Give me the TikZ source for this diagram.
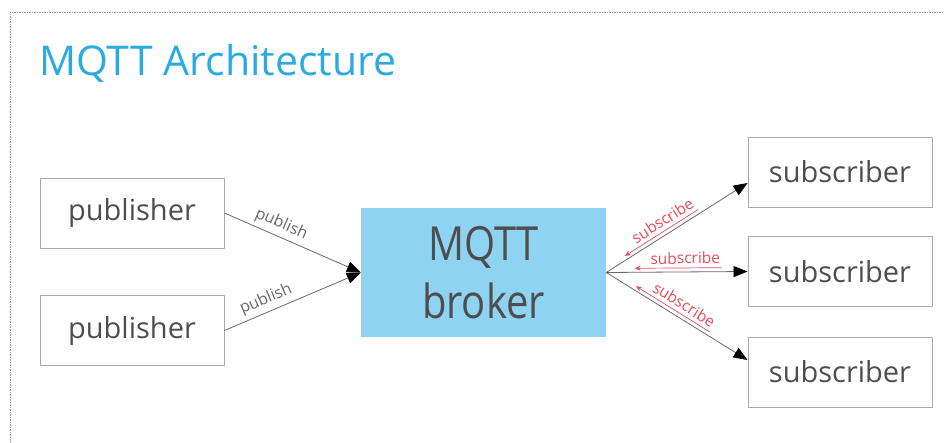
\documentclass[tikz,border=0pt]{standalone}
\usepackage{fontspec}
\setmainfont{Open Sans}
\usetikzlibrary{arrows.meta,calc}
\definecolor{titleblue}{RGB}{41,171,226}
\definecolor{brokerfill}{RGB}{142,211,242}
\definecolor{boxline}{RGB}{170,170,170}
\definecolor{textgray}{RGB}{78,78,78}
\definecolor{wiregray}{RGB}{105,105,105}
\definecolor{subred}{RGB}{232,76,90}
\definecolor{framegray}{RGB}{150,150,150}
\tikzset{
  client/.style={draw=boxline, line width=0.9pt, minimum width=184pt,
    minimum height=70pt, inner sep=0pt, text=textgray,
    font=\fontsize{29}{34}\selectfont},
  brokerbox/.style={fill=brokerfill, minimum width=245pt, minimum height=129pt,
    inner sep=0pt, text=textgray, align=center,
    font=\fontsize{47}{58}\selectfont\addfontfeature{FakeStretch=0.85}},
  wire/.style={draw=wiregray, line width=0.8pt,
    -{Triangle[length=14pt,width=11pt,color=black]}},
  pubtag/.style={sloped, above=3pt, inner sep=1pt, text=wiregray,
    font=\fontsize{16}{18}\selectfont},
  subtag/.style={sloped, above=4pt, inner xsep=1pt, inner ysep=3.5pt, text=subred,
    font=\fontsize{15.5}{18}\selectfont},
  backarrow/.style={draw=subred, line width=0.7pt,
    -{Stealth[length=6pt,width=5pt]}},
  frame/.style={draw=framegray, line width=0.8pt, dash pattern=on 1.5pt off 1pt}
}
\begin{document}
\begin{tikzpicture}[x=1pt,y=-1pt]
  \useasboundingbox (0,0) rectangle (944,443);
  % slide frame
  \draw[frame] (10,443) -- (10,12) -- (944,12);
  % title
  \node[anchor=base west, inner sep=0pt, text=titleblue,
        font=\fontsize{41}{48}\selectfont] (title) at (39,76) {MQTT Architecture};
  % clients and broker
  \node[client] (pub1) at (132,213) {publisher};
  \node[client] (pub2) at (132,330.5) {publisher};
  \node[brokerbox] (broker) at (483.5,272.5) {MQTT\\broker};
  \node[client] (sub1) at (840,172) {subscriber};
  \node[client] (sub2) at (840,271.5) {subscriber};
  \node[client] (sub3) at (840,372) {subscriber};
  % publish connectors
  \draw[wire] (pub1.east) -- (broker.west) node[pubtag,pos=0.38] (p1) {publish};
  \draw[wire] (pub2.east) -- (broker.west) node[pubtag,pos=0.34] (p2) {publish};
  % subscribe connectors
  \draw[wire] (broker.east) -- ($(sub1.west)+(0,11)$) node[subtag,pos=0.45] (s1) {subscribe};
  \draw[wire] (broker.east) -- (sub2.west) node[subtag,pos=0.56] (s2) {subscribe};
  \draw[wire] (broker.east) -- ($(sub3.west)+(0,-12)$) node[subtag,pos=0.5] (s3) {subscribe};
  % underline arrows of the subscribe labels, pointing back to the broker
  \foreach \t in {s1,s2,s3}
    \draw[backarrow] (\t.south east) -- ($(\t.south west)!-0.2!(\t.south east)$);
\end{tikzpicture}
\end{document}
